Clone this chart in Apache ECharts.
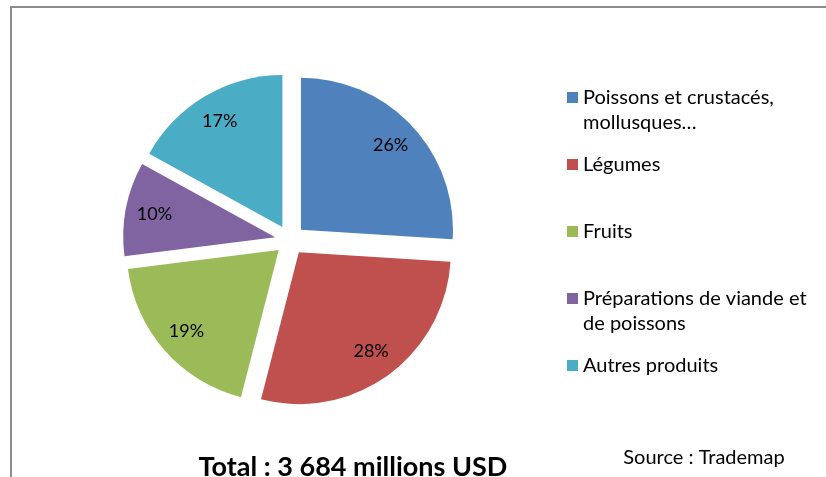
<!DOCTYPE html>
<html>
<head>
<meta charset="utf-8">
<script src="https://cdn.jsdelivr.net/npm/echarts@6/dist/echarts.min.js"></script>
<style>
  html, body { margin: 0; padding: 0; background: #fff; }
  #chart { width: 826px; height: 477px; }
</style>
</head>
<body>
<div id="chart"></div>
<script>
// Export structure by product group (share of total, %)
const categories = [
  'Poissons et crustacés,\nmollusques…',
  'Légumes',
  'Fruits',
  'Préparations de viande et\nde poissons',
  'Autres produits'
];
const shares = [26, 28, 19, 10, 17];
const sliceColors = ['#4F81BD', '#C0504D', '#9BBB59', '#8064A2', '#4BACC6'];
const totalText = 'Total : 3 684 millions USD';
const sourceText = 'Source : Trademap';

const FONT = 'Lato, "Open Sans", sans-serif';
const LINE_H = 25;

const lineCount = name => name.split('\n').length;

const pieData = categories.map((name, i) => ({
  name: name,
  value: shares[i],
  selected: true,
  itemStyle: { color: sliceColors[i] }
}));

// Each legend entry is three lines tall, with its first text line level with the swatch
const legendData = categories.map(name => ({
  name: name,
  textStyle: { padding: lineCount(name) > 1 ? 0 : [LINE_H, 0, LINE_H, 0] }
}));

const chart = echarts.init(document.getElementById('chart'), null, { renderer: 'canvas' });

chart.setOption({
  animation: false,
  backgroundColor: '#ffffff',
  legend: {
    orient: 'vertical',
    left: 567,
    top: 60,
    padding: 0,
    itemGap: -8,
    itemWidth: 11,
    itemHeight: 11,
    icon: 'rect',
    selectedMode: false,
    data: legendData,
    formatter: name => (lineCount(name) > 1 ? '\n' + name : name),
    textStyle: {
      fontFamily: FONT,
      fontSize: 20,
      color: '#000',
      lineHeight: LINE_H
    }
  },
  series: [
    {
      type: 'pie',
      center: [290, 240],
      radius: [0, 152],
      startAngle: 90,
      clockwise: true,
      selectedMode: 'multiple',
      selectedOffset: 15,
      silent: true,
      label: { show: false },
      labelLine: { show: false },
      emphasis: { disabled: true },
      data: pieData
    },
    {
      // percentage labels, placed inside each slice
      type: 'pie',
      center: [290, 240],
      radius: [88, 152],
      startAngle: 90,
      clockwise: true,
      selectedMode: 'multiple',
      selectedOffset: 15,
      silent: true,
      itemStyle: { color: 'rgba(0,0,0,0)' },
      emphasis: { disabled: true },
      label: {
        show: true,
        position: 'inside',
        formatter: '{c}%',
        fontFamily: FONT,
        fontSize: 18,
        color: '#000'
      },
      labelLine: { show: false },
      data: categories.map((name, i) => ({ name: name, value: shares[i], selected: true }))
    }
  ],
  graphic: [
    {
      type: 'polyline',
      silent: true,
      shape: { points: [[11, 480], [11, 7], [830, 7]] },
      style: { stroke: '#8c8c8c', lineWidth: 2, fill: null }
    },
    {
      type: 'text',
      x: 353,
      y: 467,
      style: {
        text: totalText,
        fontFamily: FONT,
        fontWeight: 'bold',
        fontSize: 27,
        fill: '#000',
        align: 'center',
        verticalAlign: 'middle'
      }
    },
    {
      type: 'text',
      x: 704,
      y: 458,
      style: {
        text: sourceText,
        fontFamily: FONT,
        fontSize: 20,
        fill: '#000',
        align: 'center',
        verticalAlign: 'middle'
      }
    }
  ]
});
</script>
</body>
</html>
